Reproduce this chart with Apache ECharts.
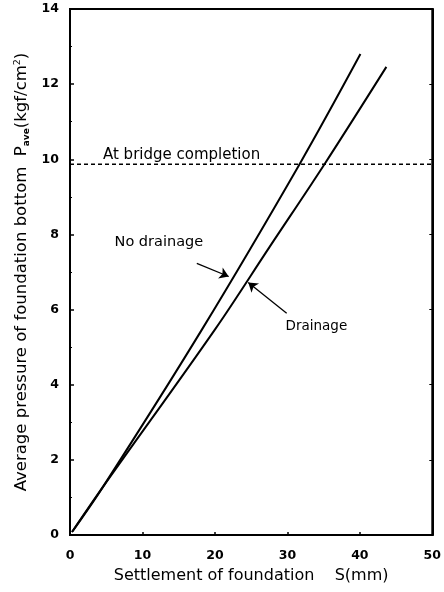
<!DOCTYPE html>
<html><head><meta charset="utf-8">
<script src="https://cdn.jsdelivr.net/npm/echarts@6/dist/echarts.min.js"></script>
<style>html,body{margin:0;padding:0;background:#fff}#c{width:444px;height:592px}</style>
</head><body><div id="c"></div>
<script>
var xTicks = [0, 10, 20, 30, 40, 50];
var yTicks = [0, 2, 4, 6, 8, 10, 12, 14];
var noDrainage = [[0.28,0.08],[4.55,1.28],[18.18,5.46],[31.68,9.87],[40.08,12.8]];
var drainage = [[0.28,0.08],[4.55,1.28],[19.97,5.46],[27.55,7.67],[35.12,9.87],[43.66,12.46]];
var completionLevel = 9.87;
var completionLine = [[0, completionLevel], [50, completionLevel]];
var noDrainageArrow = [[17.5, 7.23], [21.9, 6.88]];
var drainageArrow = [[29.9, 5.90], [24.6, 6.72]];
var labels = [
  {text: 'At bridge completion', at: [4.55, 10.11], align: 'left', size: 15},
  {text: 'No drainage', at: [12.26, 7.80], align: 'center', size: 14.5},
  {text: 'Drainage', at: [34.0, 5.54], align: 'center', size: 13.5}
];

var chart = echarts.init(document.getElementById('c'), null, {renderer: 'canvas'});
var tickFont = {fontFamily: 'DejaVu Sans', fontWeight: 'bold', fontSize: 12.5, color: '#000'};
function arrowLine(pts) {
  return {
    type: 'line', data: [], silent: true,
    markLine: {
      silent: true, symbol: ['none', 'arrow'], symbolSize: 9,
      lineStyle: {color: '#000', width: 1.3, type: 'solid'},
      label: {show: false},
      data: [[{coord: pts[0]}, {coord: pts[1]}]]
    }
  };
}
var option = {
  animation: false,
  backgroundColor: '#fff',
  grid: {left: 70, right: 11, top: 9, bottom: 57, show: true, borderColor: '#000', borderWidth: 2},
  xAxis: {
    type: 'value', min: xTicks[0], max: xTicks[xTicks.length-1], interval: 10,
    axisLine: {show: true, lineStyle: {color: '#000', width: 2}},
    axisTick: {show: true, inside: true, length: 3, lineStyle: {color: '#000', width: 1.5}},
    splitLine: {show: false},
    axisLabel: Object.assign({margin: 14, formatter: function(v){return xTicks.indexOf(v) >= 0 ? String(v) : '';}}, tickFont),
    name: 'Settlement of foundation    S(mm)', nameLocation: 'middle', nameGap: 33,
    nameTextStyle: {fontFamily: 'DejaVu Sans', fontSize: 16, color: '#000'}
  },
  yAxis: [{
    type: 'value', min: yTicks[0], max: yTicks[yTicks.length-1], interval: 2,
    axisLine: {show: true, lineStyle: {color: '#000', width: 2}},
    axisTick: {show: true, inside: true, length: 4, lineStyle: {color: '#000', width: 1.5}},
    minorTick: {show: true, splitNumber: 2, length: 2, lineStyle: {color: '#000', width: 1}},
    splitLine: {show: false},
    axisLabel: Object.assign({margin: 11, formatter: function(v){return yTicks.indexOf(v) >= 0 ? String(v) : '';}}, tickFont),
    name: 'Average pressure of foundation bottom  P{sub|ave}(kgf/cm{sup|2})',
    nameLocation: 'middle', nameGap: 31, nameRotate: 90,
    nameTextStyle: {
      fontFamily: 'DejaVu Sans', fontSize: 16.5, color: '#000',
      rich: {
        sub: {fontFamily: 'DejaVu Sans', fontWeight: 'bold', fontSize: 9, color: '#000', verticalAlign: 'bottom', padding: [8, 0, 0, 0]},
        sup: {fontFamily: 'DejaVu Sans', fontSize: 9.5, color: '#000', verticalAlign: 'top', padding: [0, 0, 8, 0]}
      }
    }
  }, {
    type: 'value', position: 'right', min: yTicks[0], max: yTicks[yTicks.length-1], interval: 2,
    axisLine: {show: true, lineStyle: {color: '#000', width: 2}},
    axisTick: {show: true, inside: true, length: 3, lineStyle: {color: '#000', width: 1}},
    axisLabel: {show: false}, splitLine: {show: false}
  }],
  series: [
    {type: 'line', name: 'No drainage', data: noDrainage, showSymbol: false, smooth: 0.35,
     lineStyle: {color: '#000', width: 2}},
    {type: 'line', name: 'Drainage', data: drainage, showSymbol: false, smooth: 0.35,
     lineStyle: {color: '#000', width: 2}},
    {type: 'line', name: 'At bridge completion', data: completionLine, showSymbol: false,
     lineStyle: {color: '#000', width: 1.5, type: [4, 3]}},
    arrowLine(noDrainageArrow),
    arrowLine(drainageArrow)
  ]
};
chart.setOption(option);
var g = labels.map(function(l) {
  var p = chart.convertToPixel({gridIndex: 0}, l.at);
  return {type: 'text', x: p[0], y: p[1], silent: true,
    style: {text: l.text, fontFamily: 'DejaVu Sans', fontSize: l.size, fill: '#000',
            textAlign: l.align, textVerticalAlign: 'middle', align: l.align, verticalAlign: 'middle'}};
});
chart.setOption({graphic: g});
</script></body></html>
